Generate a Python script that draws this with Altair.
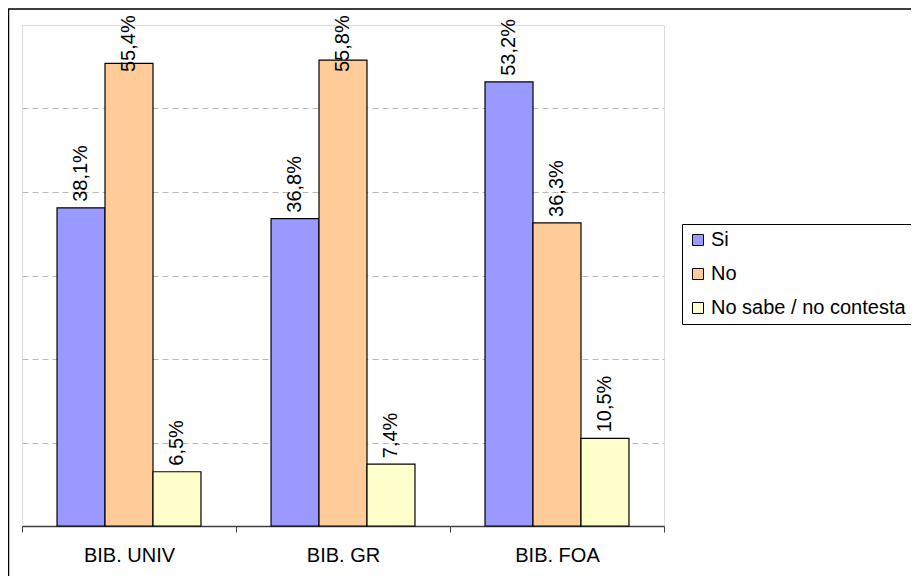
import altair as alt
import pandas as pd

categories = ["BIB. UNIV", "BIB. GR", "BIB. FOA"]
series = ["Si", "No", "No sabe / no contesta"]
si_values = [38.1, 36.8, 53.2]
no_values = [55.4, 55.8, 36.3]
ns_values = [6.5, 7.4, 10.5]
colors = ["#9999FF", "#FFCC99", "#FFFFCC"]
grid_values = [10, 20, 30, 40, 50]

rows = []
for s, vals in zip(series, [si_values, no_values, ns_values]):
    for c, v in zip(categories, vals):
        rows.append({"cat": c, "serie": s, "v": v})
df = pd.DataFrame(rows)

FONT = "Liberation Sans"
FS = 20

xenc = alt.X("cat:N", sort=categories, title="",
             scale=alt.Scale(paddingInner=0, paddingOuter=0),
             axis=alt.Axis(labelAngle=0, tickBand="extent", tickSize=6,
                           tickColor="#404040", domainColor="#404040",
                           domainWidth=1.5, labelFont=FONT, labelFontSize=FS,
                           labelColor="black", labelPadding=13))
xoff = alt.XOffset("serie:N", sort=series,
                   scale=alt.Scale(paddingOuter=0.73, paddingInner=0))
yscale = alt.Scale(domain=[0, 60], nice=False)

bars = alt.Chart(df).mark_bar(stroke="black", strokeWidth=1.2).encode(
    x=xenc,
    xOffset=xoff,
    y=alt.Y("v:Q", scale=yscale, title="",
            axis=alt.Axis(labels=False, ticks=False, domain=False,
                          values=grid_values, grid=True, gridDash=[6, 4],
                          gridColor="#b8b8b8", gridWidth=1)),
    color=alt.Color("serie:N", sort=series,
                    scale=alt.Scale(domain=series, range=colors),
                    legend=alt.Legend(title=None, orient="none", legendX=660, legendY=199,
                                      strokeColor="black", fillColor="white", padding=6,
                                      symbolType="square", symbolSize=121,
                                      symbolStrokeColor="black", symbolStrokeWidth=1,
                                      labelFont=FONT, labelFontSize=FS, labelColor="black",
                                      labelExpr="datum.label + '        '",
                                      labelLimit=500, rowPadding=14, labelOffset=3)),
)

labels = alt.Chart(df).transform_calculate(
    lab="replace(format(datum.v, '.1f'), '.', ',') + '%'",
    ly="min(datum.v, 53.65)",
).mark_text(angle=270, align="left", baseline="middle", dx=6,
            font=FONT, fontSize=FS, color="black").encode(
    x=alt.X("cat:N", sort=categories),
    xOffset=alt.XOffset("serie:N", sort=series),
    y=alt.Y("ly:Q", scale=yscale),
    text="lab:N",
)

border = alt.Chart(alt.Data(values=[{"a": 1}])).mark_rect(
    fill="transparent", stroke="black", strokeWidth=1.5
).encode(
    x=alt.value(-13.5), x2=alt.value(1200), y=alt.value(-16), y2=alt.value(1200)
)

chart = alt.layer(border, bars, labels).properties(
    width=642, height=501,
    autosize=alt.AutoSizeParams(type="none"),
    padding={"left": 14, "top": 17, "right": 247, "bottom": 50},
).configure_view(stroke="#808080", strokeWidth=1).configure(background="white")

chart.save("out.html", embed_options={"renderer": "svg", "actions": False})
